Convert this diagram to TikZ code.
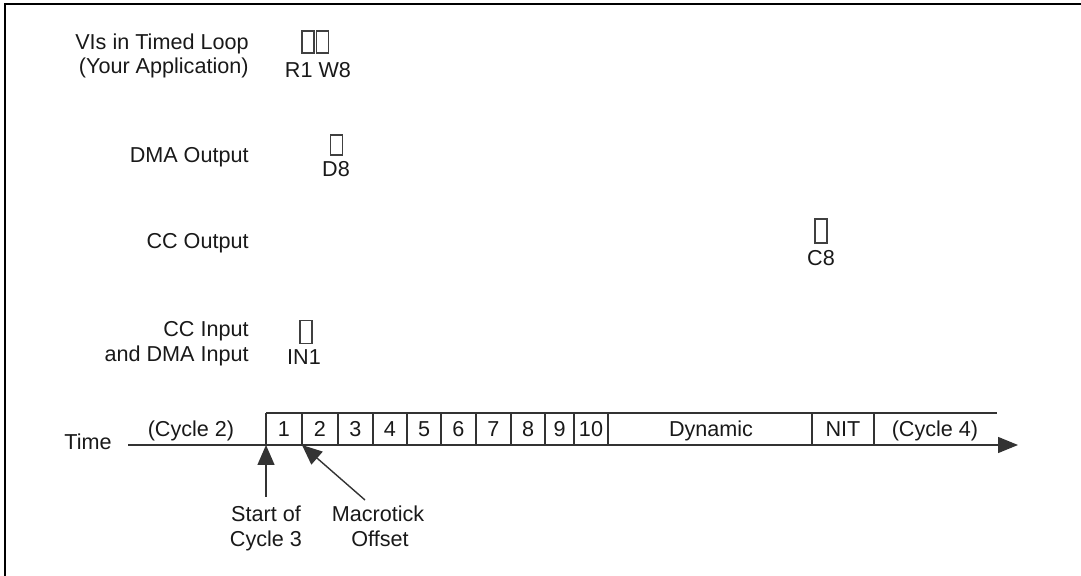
\documentclass[tikz,border=0pt]{standalone}
\usepackage{fontspec}
\setmainfont{Liberation Sans}
\usetikzlibrary{arrows.meta}
\begin{document}
\begin{tikzpicture}[x=0.5pt,y=-0.5pt,
  lbl/.style={inner sep=0pt,font=\fontsize{10.8}{12}\selectfont,text=black!90},
  tofu/.style={draw=black!75,line width=0.55pt,minimum width=6pt,minimum height=11pt,inner sep=0pt},
  tl/.style={draw=black!80,line width=0.7pt},
  bigtip/.style={-{Triangle[length=10pt,width=8.5pt]}}
]
\useasboundingbox (0,0) rectangle (1081,576);
\draw[line width=1.4pt] (5,580) -- (5,4) -- (1085,4);
% row labels
\node[lbl,anchor=base east] (vi1) at (249,50) {VIs in Timed Loop};
\node[lbl,anchor=base east] (vi2) at (249,74) {(Your Application)};
\node[lbl,anchor=base east] (dma) at (249,163) {DMA Output};
\node[lbl,anchor=base east] (cco) at (249,249) {CC Output};
\node[lbl,anchor=base east] (cci1) at (249,337) {CC Input};
\node[lbl,anchor=base east] (cci2) at (249,362) {and DMA Input};
% event markers
\node[tofu] (r1) at (308,42) {};
\node[tofu] (w8) at (322.5,42) {};
\node[lbl,anchor=base] (rw) at (318,78) {R1 W8};
\node[tofu,minimum height=10pt] (d8) at (336.5,145) {};
\node[lbl,anchor=base] (d8l) at (336,177) {D8};
\node[tofu,minimum height=12pt] (c8) at (821,231) {};
\node[lbl,anchor=base] (c8l) at (821,266) {C8};
\node[tofu,minimum height=11.5pt] (in1) at (306,332) {};
\node[lbl,anchor=base] (in1l) at (304,365) {IN1};
% timeline
\node[lbl,anchor=base east] (time) at (112,450) {Time};
\coordinate (axs) at (128,445);
\coordinate (axe) at (1018,445);
\draw[tl,-{Triangle[length=10pt,width=8pt]}] (axs) -- (axe);
\coordinate (tops) at (266,413);
\coordinate (tope) at (997,413);
\draw[tl] (tops) -- (tope);
\foreach \x [count=\i] in {266,302,338,373,407,441,476,511,545,574,608,812,874}{
  \coordinate (t\i) at (\x,413);
  \coordinate (b\i) at (\x,445);
  \draw[tl] (t\i) -- (b\i);
}
\foreach \x/\t [count=\i] in {284/1,320/2,355.5/3,390/4,424/5,458.5/6,493.5/7,528/8,559.5/9,591/10,711/Dynamic,843/NIT,935/(Cycle 4),191/(Cycle 2)}{
  \node[lbl,anchor=base] (cell\i) at (\x,437) {\t};
}
% bottom annotations
\coordinate (s3t) at (266,497);
\draw[tl,bigtip] (s3t) -- (b1);
\node[lbl,anchor=base] (st1) at (266,522) {Start of};
\node[lbl,anchor=base] (st2) at (266,546) {Cycle 3};
\coordinate (mtt) at (365,500);
\draw[tl,bigtip] (mtt) -- (b2);
\node[lbl,anchor=base] (mt1) at (378,522) {Macrotick};
\node[lbl,anchor=base] (mt2) at (380,546) {Offset};
\end{tikzpicture}
\end{document}
